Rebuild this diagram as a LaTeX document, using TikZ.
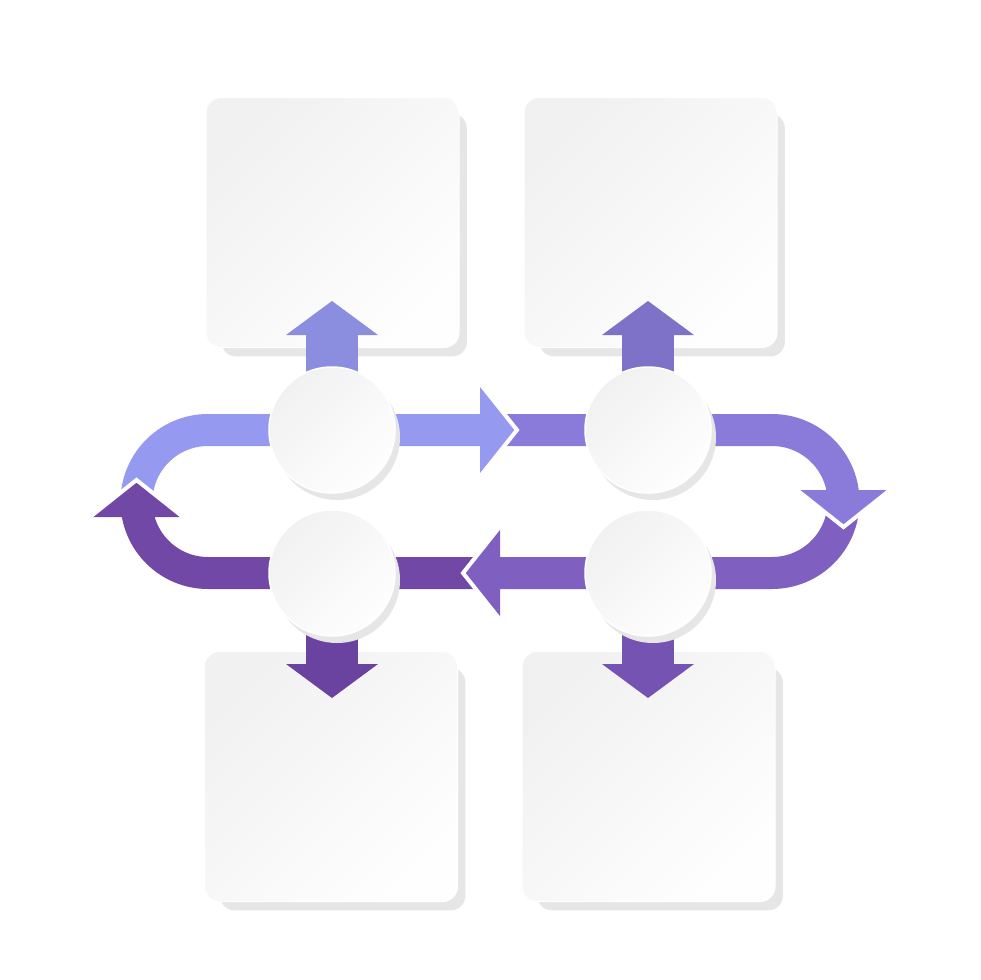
\documentclass[tikz,border=0pt]{standalone}
\usetikzlibrary{shadows}
\definecolor{bandA}{HTML}{9699F0}
\definecolor{bandB}{HTML}{8A7BDB}
\definecolor{bandC}{HTML}{7F5FBF}
\definecolor{bandD}{HTML}{7148A5}
\definecolor{stemA}{HTML}{8B8EDF}
\definecolor{stemB}{HTML}{7E71C8}
\definecolor{stemC}{HTML}{6A42A0}
\definecolor{stemD}{HTML}{7553B2}
\definecolor{paperdark}{HTML}{F1F1F1}
\definecolor{paperlight}{HTML}{FEFEFE}
\definecolor{shade}{HTML}{E6E6E6}
\pgfdeclarelayer{boxes}
\pgfdeclarelayer{bands}
\pgfsetlayers{boxes,bands,main}
\tikzset{
  card/.style={rectangle, rounded corners=15pt, minimum width=253pt, minimum height=250pt,
    top color=paperdark, bottom color=paperlight, shading angle=45, draw=white, line width=1pt,
    general shadow={fill=shade, shadow scale=0.97, shadow xshift=12pt, shadow yshift=-13pt}},
  hub/.style={circle, minimum size=126pt, inner sep=0pt,
    top color=paperdark, bottom color=paperlight, shading angle=45, draw=white, line width=1.5pt,
    general shadow={fill=shade, shadow xshift=5pt, shadow yshift=-7pt}},
  band/.style={line width=32pt},
  stem/.style={line width=52pt},
  pics/bandhead/.style={code={
    \fill[#1] (0,-46.5) -- (37,0) -- (0,46.5) -- cycle;
    \draw[white, line width=4pt] (0,-46.5) -- (37,0) -- (0,46.5);
  }},
  pics/stemhead/.style={code={
    \fill[#1] (0,-46) -- (34,0) -- (0,46) -- cycle;
  }}
}
\begin{document}
\begin{tikzpicture}[x=1pt, y=-1pt]
  \useasboundingbox (0,0) rectangle (980,980);

  \begin{pgfonlayer}{boxes}
    \fill[white] (0,0) rectangle (980,980);
    \node[card] (boxA) at (332.5,222.5) {};
    \node[card] (boxB) at (650.5,222.5) {};
    \node[card] (boxC) at (331,776.5) {};
    \node[card] (boxD) at (648.5,776.5) {};
  \end{pgfonlayer}

  \node[hub] (hubA) at (332,430) {};
  \node[hub] (hubB) at (648,430) {};
  \node[hub] (hubC) at (332,573) {};
  \node[hub] (hubD) at (648,573) {};

  % ends of the loop and of the stems
  \coordinate (headA) at (480,430);
  \coordinate (headB) at (843.5,490);
  \coordinate (headC) at (500,573);
  \coordinate (headD) at (136.5,517);
  \coordinate (stemtopA) at (332,335);
  \coordinate (stemtopB) at (648,335);
  \coordinate (stembotC) at (332,664);
  \coordinate (stembotD) at (648,664);

  \begin{pgfonlayer}{bands}
    \draw[stem, stemA] (hubA.center) -- (stemtopA);
    \draw[stem, stemB] (hubB.center) -- (stemtopB);
    \draw[stem, stemC] (hubC.center) -- (stembotC);
    \draw[stem, stemD] (hubD.center) -- (stembotD);
    \pic[rotate=90] at (stemtopA) {stemhead=stemA};
    \pic[rotate=90] at (stemtopB) {stemhead=stemB};
    \pic[rotate=-90] at (stembotC) {stemhead=stemC};
    \pic[rotate=-90] at (stembotD) {stemhead=stemD};

    \draw[band, bandA] (136.5,501.5) arc[start angle=180, end angle=90, radius=71.5pt] -- (headA);
    \draw[band, bandB] (495,430) -- (772,430) arc[start angle=90, end angle=0, radius=71.5pt];
    \draw[band, bandC] (843.5,501.5) arc[start angle=0, end angle=-90, radius=71.5pt] -- (headC);
    \draw[band, bandD] (488,573) -- (208,573) arc[start angle=270, end angle=180, radius=71.5pt];
    \pic at (headA) {bandhead=bandA};
    \pic[rotate=-90] at (headB) {bandhead=bandB};
    \pic[rotate=180] at (headC) {bandhead=bandC};
    \pic[rotate=90] at (headD) {bandhead=bandD};
  \end{pgfonlayer}
\end{tikzpicture}
\end{document}
